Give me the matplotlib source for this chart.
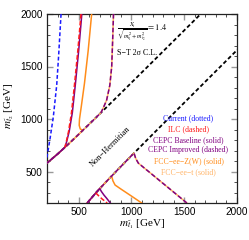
import numpy as np
import matplotlib
matplotlib.use("Agg")
import matplotlib.pyplot as plt
from matplotlib.ticker import MultipleLocator, FixedLocator

plt.rcParams['mathtext.fontset'] = 'stix'

# ---------------- data (GeV) ----------------
# Non-Hermitian boundary (upper branch): m_t1 -> m_t2 ; lower branch is the mirror
bound_m1 = [200, 300, 400, 500, 600, 700, 800, 900, 1000, 1200, 1400, 1600, 1700]
bound_m2 = [580.7, 666.0, 758.3, 853.8, 950.9, 1049.0, 1147.6, 1246.7, 1346.0, 1544.9, 1744.2, 1943.8, 2043.7]

# upper-left contours (m_t1, m_t2)
cur_up_x = [333, 310, 292, 260, 230, 195]
cur_up_y = [2000, 1600, 1323, 1022, 820, 610]

ilc_up_x = [522, 492, 460, 432, 404, 382, 370]
ilc_up_y = [2000, 1650, 1323, 1060, 880, 780, 731]

cepcb_up_x = [530, 500, 468, 440, 410, 385, 370]
cepcb_up_y = [2000, 1650, 1323, 1060, 880, 780, 731]

fccz_up_x = [623, 590, 555, 525, 508, 505, 515, 540]
fccz_up_y = [2000, 1650, 1340, 1120, 1000, 940, 905, 893]

cepci_up_x = [830, 822, 813, 795, 765, 735, 712]
cepci_up_y = [2000, 1750, 1500, 1320, 1180, 1110, 1061]

# lower-right contours (m_t1, m_t2)
ilc_lo_x = [662, 690, 720, 745, 770]
ilc_lo_y = [296, 268, 240, 220, 200]

cepcb_lo_x = [700, 715, 740, 765, 800]
cepcb_lo_y = [338, 310, 275, 245, 200]

fccz_lo_x = [812, 825, 845, 900, 1000, 1097]
fccz_lo_y = [457, 410, 371, 333, 266, 200]

cepci_lo_x = [1024, 1040, 1065, 1150, 1300, 1420, 1525]
cepci_lo_y = [676, 625, 580, 510, 386, 287, 200]

legend_labels = ["Current (dotted)", "ILC (dashed)", "CEPC Baseline (solid)",
                 "CEPC Improved (dashed)", "FCC\u2212ee\u2212Z(W) (solid)", "FCC\u2212ee\u2212t (solid)"]

x_ticks = [500, 1000, 1500, 2000]
y_ticks = [500, 1000, 1500, 2000]

# ---------------- colors ----------------
C_BLUE = '#1a1aff'
C_RED = '#ff1a1a'
C_PURPLE = '#800080'
C_ORANGE = '#ff8c1a'
C_LORANGE = '#ffb366'


def upper_seg(cx, cy):
    """contour + upper boundary down to the left edge"""
    kx = cx[-1]
    bx = [m for m in bound_m1 if m < kx][::-1]
    by = [bound_m2[bound_m1.index(m)] for m in bx]
    return list(cx) + bx, list(cy) + by


def lower_seg(cx, cy):
    """contour + lower boundary (mirror) down to the bottom edge"""
    ky = cy[0]
    by = [m for m in bound_m1 if m < ky][::-1]
    bx = [bound_m2[bound_m1.index(m)] for m in by]
    return list(cx)[::-1] + bx, list(cy)[::-1] + by


fig = plt.figure(figsize=(2.49, 2.40), dpi=100)
ax = fig.add_axes([47 / 249, 37 / 240, 190 / 249, 189 / 240])
ax.set_xlim(200, 2000)
ax.set_ylim(200, 2000)

lw = 1.1
# boundaries
ax.plot(bound_m1, bound_m2, color='black', lw=1.3, ls=(0, (2.2, 1.4)), zorder=2)
ax.plot(bound_m2, bound_m1, color='black', lw=1.3, ls=(0, (2.2, 1.4)), zorder=2)

# current
ax.plot(cur_up_x, cur_up_y, color=C_BLUE, lw=lw, ls=(0, (2.5, 1.5)), zorder=5)

# FCC-ee-Z(W)
x, y = upper_seg(fccz_up_x, fccz_up_y)
ax.plot(x, y, color=C_ORANGE, lw=lw, zorder=3)
x, y = lower_seg(fccz_lo_x, fccz_lo_y)
ax.plot(x, y, color=C_ORANGE, lw=lw, zorder=3)

# FCC-ee-t (solid) + CEPC improved (dashed)
for seg in (upper_seg(cepci_up_x, cepci_up_y), lower_seg(cepci_lo_x, cepci_lo_y)):
    ax.plot(seg[0], seg[1], color=C_LORANGE, lw=lw, zorder=3.5)
    ax.plot(seg[0], seg[1], color=C_PURPLE, lw=lw, ls=(0, (3, 1.5)), zorder=4)

# CEPC baseline (solid)
x, y = upper_seg(cepcb_up_x, cepcb_up_y)
ax.plot(x, y, color=C_PURPLE, lw=lw, zorder=4.2)
x, y = lower_seg(cepcb_lo_x, cepcb_lo_y)
ax.plot(x, y, color=C_PURPLE, lw=lw, zorder=4.2)

# ILC (dashed)
ax.plot(ilc_up_x, ilc_up_y, color=C_RED, lw=lw, ls=(0, (3, 1.5)), zorder=4.5)
ax.plot(ilc_lo_x, ilc_lo_y, color=C_RED, lw=lw, ls=(0, (3, 1.5)), zorder=4.5)

# ---------------- texts ----------------
serif = ['Liberation Serif', 'DejaVu Serif']
ax.text(800, 740, "Non\u2212Hermitian", rotation=45, rotation_mode='anchor',
        ha='center', va='center', fontsize=6, family=serif, zorder=6)

ax.text(0.37, 0.905,
        r'$\frac{X_t}{\sqrt{m^2_{\tilde{t}_1}+m^2_{\tilde{t}_2}}}=1.4$',
        transform=ax.transAxes, fontsize=6.3, ha='left', va='center')
ax.text(0.37, 0.795, "S\u2212T 2\u03c3 C.L.", transform=ax.transAxes,
        fontsize=5.8, family=serif, ha='left', va='center')

leg_colors = [C_BLUE, C_RED, C_PURPLE, C_PURPLE, C_ORANGE, C_LORANGE]
leg_y = [1010, 905, 800, 700, 598, 495]
for lab, c, yy in zip(legend_labels, leg_colors, leg_y):
    ax.text(1540, yy, lab, color=c, fontsize=5.6, family=serif,
            ha='center', va='center', zorder=6)

# ---------------- axes styling ----------------
ax.xaxis.set_major_locator(FixedLocator(x_ticks))
ax.yaxis.set_major_locator(FixedLocator(y_ticks))
ax.xaxis.set_minor_locator(MultipleLocator(100))
ax.yaxis.set_minor_locator(MultipleLocator(100))
ax.tick_params(which='both', direction='in', top=True, right=True)
ax.tick_params(which='major', length=4.5, width=1.0, color='#999999',
               labelsize=7.2, pad=3)
ax.tick_params(which='minor', length=2.5, width=0.6, color='#333333')
for lab in ax.get_xticklabels() + ax.get_yticklabels():
    lab.set_family(['Liberation Sans', 'DejaVu Sans'])
for s in ax.spines.values():
    s.set_linewidth(0.9)
    s.set_color('#222222')

fig.text(142 / 249, 1 - 224 / 240, r'$m_{\tilde{t}_1}$ [GeV]', fontsize=8,
         family=serif, ha='center', va='center')
fig.text(9 / 249, 1 - 106 / 240, r'$m_{\tilde{t}_2}$ [GeV]', fontsize=8,
         family=serif, ha='center', va='center', rotation=90)

fig.savefig('out.png', dpi=100)
